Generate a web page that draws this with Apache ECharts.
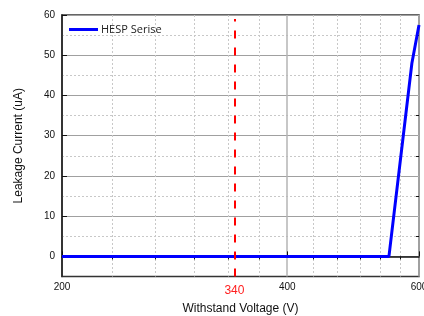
<!DOCTYPE html>
<html>
<head>
<meta charset="utf-8">
<script src="https://cdn.jsdelivr.net/npm/echarts@6/dist/echarts.min.js"></script>
<style>html,body{margin:0;padding:0;background:#fff;}#c{width:424px;height:316px;}</style>
</head>
<body>
<div id="c"></div>
<script>
const xTicksMajor = [200, 400, 600];
const xTicksMinor = [233.33, 266.67, 300, 333.33, 366.67, 433.33, 466.67, 500, 533.33, 566.67];
const yTicksMajor = [0, 10, 20, 30, 40, 50, 60];
const yTicksMinor = [5, 15, 25, 35, 45, 55];
const voltage = [200, 547, 587, 600];
const current = [0, 0, 48, 57.5];
const markVoltage = 340;
const seriesName = 'HESP Serise';

const chart = echarts.init(document.getElementById('c'), null, {renderer: 'canvas'});
const font = 'Liberation Sans, Arial, sans-serif';
const xBase = {type: 'log', logBase: 10, min: 200, max: 600, gridIndex: 0};
const yBase = {type: 'value', min: -5, max: 60, gridIndex: 0};
chart.setOption({
  animation: false,
  grid: {left: 62, top: 15, right: 5, bottom: 39.5, containLabel: false, outerBoundsMode: 'none', show: true, borderColor: '#333', borderWidth: 1.5, backgroundColor: 'transparent'},
  legend: {
    data: [seriesName], left: 64, top: 19, icon: 'rect', itemWidth: 29, itemHeight: 3,
    textStyle: {fontSize: 11, color: '#222', fontFamily: 'Open Sans, sans-serif', padding: [0, 0, 0, -2]}
  },
  xAxis: [
    Object.assign({}, xBase, {
      name: 'Withstand Voltage (V)', nameLocation: 'middle', nameGap: 26,
      nameTextStyle: {fontSize: 12, color: '#111', fontFamily: font},
      axisLine: {show: true, lineStyle: {color: '#111', width: 1.5}},
      axisTick: {show: true, inside: true, length: 5, customValues: xTicksMajor, lineStyle: {color: '#111'}},
      axisLabel: {show: true, customValues: xTicksMajor, fontSize: 10, color: '#111', margin: 6, fontFamily: font},
      splitLine: {show: true, lineStyle: {color: '#b4b4b4', width: 1.5, type: 'solid'}}
    }),
    Object.assign({}, xBase, {
      axisLine: {show: false},
      axisTick: {show: true, inside: true, length: 3, customValues: xTicksMinor, lineStyle: {color: '#111'}},
      axisLabel: {show: false},
      splitLine: {show: true, lineStyle: {color: '#c8c8c8', width: 1, type: [2, 2]}}
    })
  ],
  yAxis: [
    Object.assign({}, yBase, {
      name: 'Leakage Current (uA)', nameLocation: 'middle', nameGap: 37,
      nameTextStyle: {fontSize: 12, color: '#111', fontFamily: font},
      axisLine: {show: true, lineStyle: {color: '#111', width: 1.5}},
      axisTick: {show: true, inside: true, length: 5, customValues: yTicksMajor, lineStyle: {color: '#111'}},
      axisLabel: {show: true, customValues: yTicksMajor, fontSize: 10, color: '#111', margin: 7, fontFamily: font},
      splitLine: {show: true, lineStyle: {color: '#a0a0a0', width: 1.2, type: 'solid'}}
    }),
    Object.assign({}, yBase, {
      axisLine: {show: false},
      axisTick: {show: true, inside: true, length: 3, customValues: yTicksMinor, lineStyle: {color: '#111'}},
      axisLabel: {show: false},
      splitLine: {show: true, lineStyle: {color: '#c8c8c8', width: 1, type: [2, 2]}}
    })
  ],
  series: [{
    name: seriesName, type: 'line', xAxisIndex: 0, yAxisIndex: 0,
    data: voltage.map((v, i) => [v, current[i]]),
    showSymbol: false, symbol: 'none', clip: true,
    lineStyle: {color: '#0000ff', width: 3}, itemStyle: {color: '#0000ff'},
    markLine: {
      silent: true, symbol: 'none', animation: false,
      lineStyle: {color: '#ff0000', width: 2, type: [8, 9]},
      label: {show: true, position: 'start', formatter: String(markVoltage), color: '#ff2020', fontSize: 12, distance: 8, fontFamily: font},
      data: [[{coord: [markVoltage, -5]}, {coord: [markVoltage, 59]}]]
    }
  }]
});
</script>
</body>
</html>
